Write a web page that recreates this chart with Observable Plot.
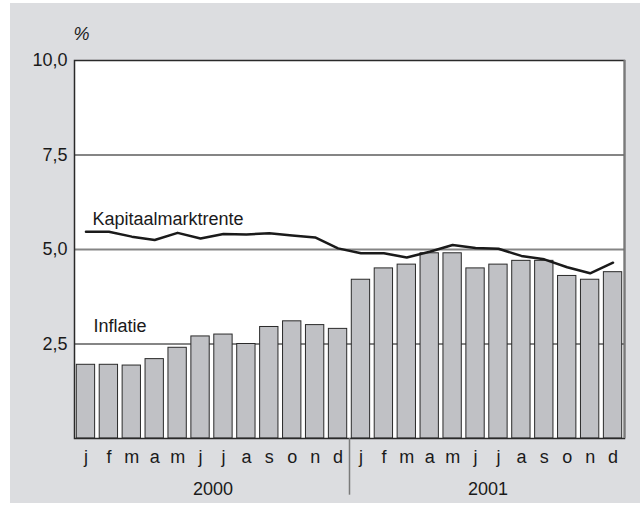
<!DOCTYPE html>
<html><head><meta charset="utf-8">
<script src="https://cdn.jsdelivr.net/npm/d3@7"></script>
<script src="https://cdn.jsdelivr.net/npm/@observablehq/plot@0.6"></script>
<style>
body{margin:0;background:#fff;width:640px;height:505px;overflow:hidden;position:relative;font-family:"Liberation Sans",Arial,sans-serif}
#bg{position:absolute;left:10px;top:3px;width:630px;height:500px;background:#dcdde0}
#chart{position:absolute;left:0;top:0}
</style></head><body>
<div id="bg"></div>
<div id="chart"></div>
<script>
const years = ["2000", "2001"];
const monthLetters = ["j","f","m","a","m","j","j","a","s","o","n","d"];
const inflatie = [1.95, 1.95, 1.93, 2.1, 2.4, 2.7, 2.75, 2.5, 2.95, 3.1, 3.0, 2.9,
                  4.2, 4.5, 4.6, 4.9, 4.9, 4.5, 4.6, 4.7, 4.7, 4.3, 4.2, 4.4];
const rente = [5.47, 5.47, 5.34, 5.25, 5.44, 5.29, 5.41, 5.40, 5.43, 5.37, 5.32, 5.03,
               4.90, 4.90, 4.79, 4.94, 5.12, 5.04, 5.02, 4.83, 4.74, 4.53, 4.37, 4.65];
const yTicks = [2.5, 5, 7.5, 10];
const seriesLabels = ["Kapitaalmarktrente", "Inflatie"];

const periods = years.flatMap(y => monthLetters.map((m, i) => `${y}-${i + 1}`));
const letterOf = new Map(periods.map((p, i) => [p, monthLetters[i % 12]]));
const rows = periods.map((p, i) => ({period: p, inflatie: inflatie[i], rente: rente[i]}));
const step = 550 / 24;

const plot = Plot.plot({
  width: 640, height: 505,
  marginLeft: 74, marginRight: 16, marginTop: 60, marginBottom: 67,
  style: {background: "transparent", fontFamily: "'Liberation Sans', Arial, sans-serif", fontSize: "18px", color: "#1a1a1a"},
  x: {type: "band", domain: periods, paddingInner: 0.2, paddingOuter: 0.1, round: false,
      tickSize: 0, tickPadding: 12, tickFormat: d => letterOf.get(d), label: null},
  y: {domain: [0, 10], ticks: yTicks, tickSize: 0, tickPadding: 7,
      tickFormat: d => d.toFixed(1).replace(".", ","), label: null},
  marks: [
    Plot.frame({fill: "white", stroke: "none"}),
    Plot.ruleY(yTicks.slice(0, 3), {stroke: "#858585", strokeWidth: 2}),
    Plot.barY(rows, {x: "period", y: "inflatie", fill: "#c0c1c5", stroke: "#2a2a2a", strokeWidth: 1}),
    Plot.line(rows, {x: "period", y: "rente", stroke: "#1a1a1a", strokeWidth: 2.5}),
    Plot.frame({stroke: "#2a2a2a", strokeWidth: 1.5}),
    Plot.ruleX([periods[23]], {dx: step / 2, y1: 0, y2: 10, stroke: "#7a7a7a", strokeWidth: 2}),
    Plot.ruleX([periods[11]], {dx: step / 2, y1: 0, y2: -1.5, stroke: "#7a7a7a", strokeWidth: 1.5}),
    Plot.text(years, {x: y => `${y}-6`, y: () => 0, dx: step / 2 + 1, dy: 51, fontSize: 18, fill: "#1a1a1a"}),
    Plot.text([seriesLabels[0]], {x: () => periods[0], y: () => 5.79, dx: 6.5, textAnchor: "start", fontSize: 18, fill: "#1a1a1a"}),
    Plot.text([seriesLabels[1]], {x: () => periods[0], y: () => 2.98, dx: 7.5, textAnchor: "start", fontSize: 18, fill: "#1a1a1a"}),
    Plot.text(["%"], {frameAnchor: "top-left", dx: -1, dy: -33, textAnchor: "start", fontStyle: "italic", fontSize: 18, fill: "#1a1a1a"})
  ]
});
document.getElementById("chart").appendChild(plot);
</script>
</body></html>
